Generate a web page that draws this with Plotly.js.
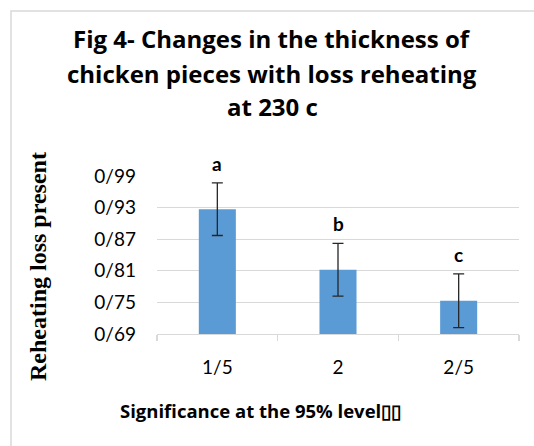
<!DOCTYPE html>
<html><head><meta charset="utf-8">
<script src="https://cdn.plot.ly/plotly-3.0.1.min.js"></script>
<style>html,body{margin:0;padding:0;background:#fff}</style>
</head><body><div id="chart" style="width:534px;height:446px"></div>
<script>
const categories = ["1/5", "2", "2/5"];
const values = [0.927, 0.812, 0.753];
const errors = [0.050, 0.050, 0.051];
const groupLetters = ["a", "b", "c"];
const yTickValues = [0.69, 0.75, 0.81, 0.87, 0.93, 0.99];
const yTickLabels = ["0/69", "0/75", "0/81", "0/87", "0/93", "0/99"];
const titleLines = ["Fig 4- Changes in the thickness of", "chicken pieces with loss reheating", "at 230 c"];
const xTitle = "Significance at the 95% level\u25AF\u25AF";
const yTitle = "Reheating loss present";

const sans = "Lato, 'Open Sans', sans-serif";
const wide = "'Open Sans', Lato, sans-serif";
const serif = "'Liberation Serif', 'Times New Roman', serif";
const L = 157, R = 15, T = 176, B = 112, W = 534, H = 446;
const pw = W - L - R, ph = H - T - B;
const px = x => (x - L) / pw;
const py = y => (H - B - y) / ph;

const trace = {
  type: 'bar', x: categories, y: values,
  marker: {color: '#5b9bd5'},
  error_y: {type: 'data', array: errors, visible: true, color: '#262626', thickness: 1.3, width: 5.5},
  hoverinfo: 'none'
};

const annotations = [];
groupLetters.forEach((t, i) => annotations.push({
  x: i, y: values[i] + errors[i], xref: 'x', yref: 'y',
  text: t, showarrow: false, yanchor: 'bottom', yshift: 6,
  font: {family: sans, size: 19, color: '#000', weight: 'bold'}
}));
const titleY = [38, 74, 107];
titleLines.forEach((t, i) => annotations.push({
  x: px(272), y: py(titleY[i]), xref: 'paper', yref: 'paper',
  text: t, showarrow: false, xanchor: 'center', yanchor: 'middle',
  font: {family: wide, size: 24, color: '#000', weight: 'bold'}
}));
// axis titles
annotations.push({
  x: px(260), y: py(410), xref: 'paper', yref: 'paper', text: xTitle, showarrow: false,
  xanchor: 'center', yanchor: 'middle',
  font: {family: wide, size: 18.5, color: '#000', weight: 'bold'}
});
annotations.push({
  x: px(38), y: py(267), xref: 'paper', yref: 'paper', text: yTitle, showarrow: false,
  textangle: -90, xanchor: 'center', yanchor: 'middle',
  font: {family: serif, size: 24, color: '#000', weight: 'bold'}
});

const layout = {
  width: W, height: H,
  margin: {l: L, r: R, t: T, b: B, pad: 0},
  paper_bgcolor: '#fff', plot_bgcolor: '#fff',
  showlegend: false, bargap: 0.693,
  xaxis: {
    type: 'category', tickson: 'boundaries', ticks: 'outside', ticklen: 6, tickcolor: '#d9d9d9', tickwidth: 1.3,
    showline: true, linecolor: '#d9d9d9', linewidth: 1.3, showgrid: false, zeroline: false,
    ticklabelstandoff: 16,
    tickfont: {family: sans, size: 19, color: '#000'},
    automargin: false, fixedrange: true
  },
  yaxis: {
    range: [0.69, 0.99], tickvals: yTickValues, ticktext: yTickLabels,
    showgrid: true, gridcolor: '#d9d9d9', gridwidth: 1.3, zeroline: false, showline: false,
    ticks: '', ticklabelstandoff: 20,
    tickfont: {family: sans, size: 19, color: '#000'},
    automargin: false, fixedrange: true
  },
  shapes: [{type: 'rect', xref: 'paper', yref: 'paper', x0: px(11), x1: px(545), y0: py(460), y1: py(11),
    line: {color: '#d9d9d9', width: 1.5}, fillcolor: 'rgba(0,0,0,0)', layer: 'below'}],
  annotations: annotations
};

Plotly.newPlot('chart', [trace], layout, {displayModeBar: false, staticPlot: true});
</script></body></html>
